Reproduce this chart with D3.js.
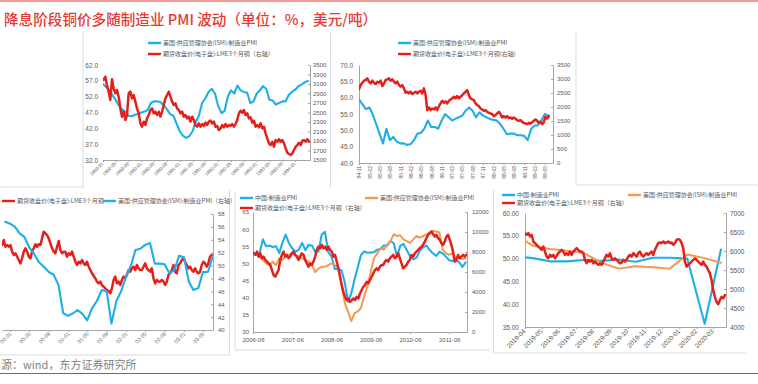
<!DOCTYPE html>
<html><head><meta charset="utf-8">
<script src="https://cdn.jsdelivr.net/npm/d3@7"></script>
<style>body{margin:0;background:#fff}svg{display:block}</style>
</head><body><div id="chart"></div><script>
// ---------------- DATA ----------------
const TITLE = "降息阶段铜价多随制造业 PMI 波动（单位：%，美元/吨）";
const SOURCE = "源：wind，东方证券研究所";
const LEG_US = "美国:供应管理协会(ISM):制造业PMI";
const LEG_US_R = "美国:供应管理协会(ISM):制造业PMI（右轴）";
const LEG_CN = "中国:制造业PMI";
const LEG_CU = "期货收盘价(电子盘):LME3个月铜";
const LEG_CU_R = "期货收盘价(电子盘):LME3个月铜（右轴）";
const LEG_CU_R2 = "期货收盘价(电子盘):LME3个月铜(右轴)";

// Panel 1 : 1989-01 .. 1994-05
const p1Ticks = ["1989-01","1989-05","1989-09","1990-01","1990-05","1990-09","1991-01","1991-05","1991-09","1992-01","1992-05","1992-09","1993-01","1993-05","1993-09","1994-01"];
const p1Left = [32,37,42,47,52,57,62];
const p1Right = [1500,1700,1900,2100,2300,2500,2700,2900,3100,3300,3500];
const p1PmiStart = "1989-01";
const p1Pmi = [56,55,54,52.5,51,49.2,48,47.2,46,45.8,46.3,46.5,
  47,47.3,47.8,50,50.5,50.5,50.3,49.3,48,46.5,46,43.5,
  41,39.6,39,39.5,41,44,46,50,51.5,53.5,54.5,53,
  49,46.8,47.5,52,54,53,55.5,54,53.5,53.3,50,50.5,
  53,54,55.3,54.5,51,50.8,49.5,50,50.5,50.5,52.5,53.5,
  54.2,55.3,55.8,56.5,57];
const p1CuSpan = ["1989-01-07","1994-05-13"];
const p1Cu = [3184,3254,3079,2938,2763,3198,3009,2903,2974,2833,2587,2412,2517,2342,2447,2903,2938,2798,2868,2728,
  2587,2482,2272,2201,2307,2236,2377,2447,2552,2587,2482,2517,2447,2517,2412,2517,2658,2798,2868,2938,
  2833,2728,2658,2693,2587,2552,2482,2517,2412,2447,2377,2412,2307,2412,2342,2236,2201,2272,2201,2257,
  2215,2286,2236,2307,2328,2272,2307,2201,2215,2131,2166,2236,2187,2257,2201,2236,2215,2257,2201,2257,
  2342,2482,2538,2496,2552,2447,2482,2377,2398,2286,2328,2201,2236,2187,2272,2166,2201,2061,1956,1850,
  1815,1885,1780,1920,1885,1935,1885,1920,1850,1745,1654,1626,1605,1640,1710,1780,1815,1864,1815,1906,
  1920,1885,1935,1885];

// Panel 2 : 1994-11 .. 1999-06
const p2Ticks = ["94-11","95-02","95-05","95-08","95-11","96-02","96-05","96-08","96-11","97-02","97-05","97-08","97-11","98-02","98-05","98-08","98-11","99-02","99-05"];
const p2Left = [40,45,50,55,60,65,70];
const p2Right = [0,500,1000,1500,2000,2500,3000,3500];
const p2PmiStart = "1994-11";
const p2Pmi = [59.5,58,56.5,57,55,52,49,46,50.5,47,48,46.5,46,46,45.5,45.8,47,49,49.2,50.5,
  53,51,51,50.5,53,55,54,53,53.5,54,54.5,56,57,56,54,55.5,54.5,54,53.5,53.2,
  53,52,50.5,48.8,49,49,48.5,48.5,48.3,47,50.5,51.5,51.5,53,55,54.5];
const p2CuSpan = ["1994-11-01","1999-06-06"];
const p2Cu = [2629,2784,2868,2940,2964,3023,2904,2844,2940,2868,2820,2904,2868,2940,2749,2844,2964,2988,3023,2940,
  2988,2904,2844,2904,2784,2725,2784,2665,2510,2545,2486,2545,2462,2510,2545,2486,2545,2581,2486,2665,
  2426,1888,1984,1888,1948,1912,1984,1888,2032,2127,2223,2151,2199,2127,2223,2271,2306,2366,2306,2390,
  2306,2366,2426,2486,2545,2605,2426,2306,2271,2247,2127,2067,2032,1948,1912,1864,1888,1828,1793,1769,
  1745,1673,1709,1769,1828,1745,1625,1673,1625,1673,1601,1625,1577,1625,1577,1530,1506,1530,1470,1434,
  1410,1386,1434,1410,1458,1506,1554,1506,1434,1482,1386,1458,1649,1589,1673];

// Panel 3 : 1999-11 .. 2003-06
const p3Ticks = ["00-01","00-05","00-09","01-01","01-05","01-09","02-01","02-05","02-09","03-01","03-05"];
const p3Right = [40,42,44,46,48,50,52,54,56,58];
const p3PmiStart = "1999-12";
const p3Pmi = [56.8,
  56.5,56,55,54.4,52.8,51.8,50.5,49.8,49,48.6,47,42.6,
  42.2,42.6,43.1,42.5,41.5,43.4,44.5,46.2,46,41,44.5,46,
  48.3,50,52.4,52.6,53.2,53.5,50.3,50.3,50.2,48.8,49.3,51.5,
  51.3,47.5,46.2,46.5,49,49,51.3];
const p3CuSpan = ["1999-11-12","2003-06-25"];
const p3Cu = [1959,1998,1946,1959,1946,1959,1908,1882,1895,1869,1843,1817,1856,1908,1934,1908,1869,1856,1908,1934,
  1965,1946,1965,1959,2011,2063,2050,2037,2011,1972,1934,1908,1895,1946,1990,1921,1895,1908,1908,1869,
  1895,1882,1908,1869,1830,1804,1830,1817,1843,1817,1804,1830,1791,1765,1740,1721,1701,1675,1662,1675,
  1649,1636,1623,1610,1602,1584,1623,1688,1714,1662,1675,1649,1688,1714,1701,1727,1765,1752,1778,1791,
  1765,1804,1778,1765,1765,1791,1817,1778,1765,1752,1778,1701,1662,1688,1675,1675,1688,1675,1649,1675,
  1727,1740,1765,1804,1752,1740,1804,1817,1843,1856,1830,1804,1778,1791,1765,1752,1778,1752,1740,1752,
  1804,1830,1817,1791,1817,1869,1882];

// Panel 4 : 2006-06 .. 2011-11
const p4Ticks = ["2006-06","2007-06","2008-06","2009-06","2010-06","2011-06"];
const p4Left = [30,35,40,45,50,55,60,65];
const p4Right = [0,2000,4000,6000,8000,10000,12000];
const p4Start = "2006-06";
const p4Cn = [53.3,52.5,53,57,55,55.2,54.8,
  55,53,56,58.4,55.9,54.4,53.4,54,56,53.9,55.4,55.2,
  53.4,53.5,58.4,59.2,53.3,52,48.4,48.4,48,44.6,38.8,41.2,
  45.3,49,52.4,53.5,53.1,53.2,53.3,54,54.3,55.2,55.2,56.6,
  55.8,52,55.1,55.7,53.9,52.1,51.2,51.7,53.8,54.7,55.2,53.9,
  52.9,52.2,53.4,52.9,52,50.9,50.7,50.9,50.4,49,50.3];
const p4Us = [53,52.5,52,51,50,49.5,50.5,49.5,51.5,51,52,52.5,53,52.5,52,51.5,51,50.5,49.5,47.5,
  48.5,49,49,49.5,50,49.5,49,44,38.5,36,33.2,35.5,36,37,40.5,43.5,47.5,51.5,53,54.5,
  54,55.5,56.5,58.5,58,58.2,57,56.5,56,57,58,57.5,58,58.5,59,59.5,59.3,59,54,53,
  52.5,53,51.5,51.5,51.3,51.5];
const p4CuSpan = ["2006-06-07","2011-11-07"];
const p4Cu = [7873,7705,8040,7538,7873,7370,7538,7203,7035,6868,6700,6198,5695,5528,5863,6198,7203,7705,8040,7538,
  7705,7370,7538,7873,8040,7705,7538,7203,7538,7873,7705,7203,6868,6533,6868,6700,7035,7538,8208,8543,
  8375,8710,8375,8543,8208,8543,8208,8040,7538,7705,7035,6365,5528,4690,4020,3518,3183,3350,3015,3183,
  3350,3183,3518,3350,3853,4188,4523,4690,5025,4858,5193,5528,5863,6198,6365,6198,6533,6700,6700,7035,
  7203,7035,7370,7538,7705,7370,7538,7873,7370,6868,6365,6533,6700,7035,7203,7705,7538,7873,8040,8208,
  8375,8543,8710,9045,9380,9715,9883,10050,9782,9548,9715,9380,9213,8878,8710,9045,9548,9715,9213,8710,
  8040,7035,7203,7705,7370,7538,7705,7538,7705];

// Panel 5 : 2019-04 .. 2020-03
const p5Ticks = ["2019-04","2019-05","2019-06","2019-07","2019-08","2019-09","2019-10","2019-11","2019-12","2020-01","2020-02","2020-03"];
const p5Left = [35,40,45,50,55,60];
const p5Right = [4000,4500,5000,5500,6000,6500,7000];
const p5Start = "2019-03";
const p5Cn = [50.5,50.1,49.4,49.4,49.7,49.5,49.8,49.3,50.2,50.2,50.0,35.7,52.0];
const p5Us = [55.3,52.8,52.1,51.7,51.2,49.1,47.8,48.3,48.1,47.8,50.9,50.1,49.1];
const p5CuSpan = ["2019-04-01","2020-03-22"];
const p5Cu = [6471,6427,6471,6383,6427,6250,6206,6162,6118,6074,6030,6118,5986,5853,5809,5898,5853,5898,5809,5871,
  5942,5986,6030,5986,5898,5942,5898,5986,5898,5986,6030,6074,6030,5986,5986,5942,5765,5677,5765,5721,
  5765,5677,5721,5677,5633,5677,5633,5721,5809,5898,5853,5942,5809,5765,5809,5765,5721,5677,5695,5765,
  5721,5765,5853,5898,5853,5942,5898,5853,5942,5986,5898,5853,5898,5942,5898,5942,5986,5898,6030,6118,
  6206,6224,6206,6250,6206,6224,6250,6206,6224,6162,6206,6294,6312,6294,6206,6074,5721,5589,5633,5677,
  5721,5765,5809,5765,5721,5677,5633,5721,5633,5589,5501,5412,5236,4971,4795,4663,4601,4707,4795,4751,
  4839];

// ---------------- HELPERS ----------------
const FONT = '"Liberation Sans","Noto Sans CJK SC",sans-serif';
const CJK = '"Noto Sans CJK SC","Liberation Sans",sans-serif';
const C = {blue:"#1eaee8", red:"#e3201c", orange:"#f39a50", axis:"#a6a6a6", text:"#595959", border:"#dcdcdc", title:"#e53a33"};
const pm = s => { const [y,m] = s.split("-").map(Number); return new Date(y, m-1, 1); };
const pd = s => { const [y,m,d] = s.split("-").map(Number); return new Date(y, m-1, d); };
const monthly = (start, vals, day=1) => { const d0 = pm(start); return vals.map((v,i)=>({d:new Date(d0.getFullYear(), d0.getMonth()+i, day), v})); };
const spread = (span, vals) => { const a=+pd(span[0]), b=+pd(span[1]); return vals.map((v,i)=>({d:new Date(a+(b-a)*i/(vals.length-1)), v})); };

const svg = d3.select("#chart").append("svg").attr("width",758).attr("height",384);

function styleAxis(sel, fs){
  sel.attr("font-size", fs).attr("font-family", FONT);
  sel.selectAll(".domain").attr("stroke", C.axis);
  sel.selectAll(".tick line").attr("stroke", C.axis);
  sel.selectAll("text").attr("fill", C.text);
}

function drawPanel(p){
  const g = svg.append("g");
  const x = d3.scaleTime().domain([pd(p.x0), pd(p.x1)]).range([p.l, p.r]);
  const yL = d3.scaleLinear().domain(p.yL).range([p.b, p.t]);
  const yR = d3.scaleLinear().domain(p.yR).range([p.b, p.t]);
  const cid = "clip" + p.id;
  g.append("clipPath").attr("id", cid).append("rect")
    .attr("x", p.l).attr("y", p.t - 20).attr("width", p.r - p.l).attr("height", p.b - p.t + 20);

  // x axis
  const xa = d3.axisBottom(x).tickValues(p.xt.map(p.xd)).tickFormat((d,i)=>p.xt[i])
    .tickSizeInner(p.xTick).tickSizeOuter(0).tickPadding(0);
  const gx = g.append("g").attr("transform", `translate(0,${p.b})`).call(xa);
  styleAxis(gx, p.xfs);
  const tx = gx.selectAll("text").attr("y", null).attr("x", null);
  if (p.xRot === -45) tx.attr("text-anchor","end").attr("dy","0.35em").attr("transform",`translate(${p.xdx||0},${p.xdy}) rotate(-45)`);
  else if (p.xRot === -90) tx.attr("text-anchor","end").attr("dy","0.35em").attr("transform",`translate(0,${p.xdy}) rotate(-90)`);
  else tx.attr("y", p.xdy).attr("dy","0.71em");

  if (p.leftTicks){
    const la = d3.axisLeft(yL).tickValues(p.leftTicks).tickFormat(d3.format(p.lFmt))
      .tickSizeInner(p.lTick||0).tickSizeOuter(0).tickPadding(p.lPad);
    const gl = g.append("g").attr("transform", `translate(${p.l},0)`).call(la);
    styleAxis(gl, p.lfs);
    if (!p.lLine) gl.select(".domain").remove();
  }
  if (p.rightTicks){
    const ra = d3.axisRight(yR).tickValues(p.rightTicks).tickFormat(d3.format(p.rFmt))
      .tickSizeInner(-2).tickSizeOuter(0).tickPadding(p.rPad);
    const gr = g.append("g").attr("transform", `translate(${p.r},0)`).call(ra);
    styleAxis(gr, p.rfs);
  }

  p.series.forEach(s=>{
    const ys = s.axis === "R" ? yR : yL;
    const line = d3.line().x(d=>x(d.d)).y(d=>ys(d.v));
    g.append("path").datum(s.data).attr("clip-path", `url(#${cid})`)
      .attr("d", line).attr("fill","none").attr("stroke", s.color)
      .attr("stroke-width", s.w).attr("stroke-linejoin","round").attr("stroke-linecap","round");
  });

  p.legend.forEach(it=>{
    g.append("line").attr("x1", it.x).attr("x2", it.x+13).attr("y1", it.y).attr("y2", it.y)
      .attr("stroke", it.color).attr("stroke-width", 2.4);
    g.append("text").attr("x", it.x+15).attr("y", it.y).attr("dy","0.35em")
      .attr("font-family", CJK).attr("font-size", p.legfs).attr("fill", C.text).text(it.text);
  });
}

// ---------------- FRAME ----------------
svg.append("line").attr("x1",0).attr("x2",758).attr("y1",1).attr("y2",1).attr("stroke",C.title).attr("stroke-width",1.2);
svg.append("line").attr("x1",0).attr("x2",758).attr("y1",373.5).attr("y2",373.5).attr("stroke",C.title).attr("stroke-width",1.2);
svg.append("text").attr("x",4).attr("y",25).attr("font-family",CJK).attr("font-size",14.6).attr("font-weight",500)
  .attr("fill",C.title).text(TITLE);
svg.append("text").attr("x",1).attr("y",369).attr("font-family",CJK).attr("font-size",11)
  .attr("fill","#7f7f7f").text(SOURCE);

const borders = [
  [83,33,83,188],[0,187,83,187],[330.5,33,330.5,188],[576,33,576,185],[576,185,758,185],
  [229.5,190,229.5,355],[0,355,229.5,355],
  [235,191,235,350],[235,350,490,350],
  [493.5,190,493.5,353],[493.5,353,747,353]
];
borders.forEach(b=>svg.append("line").attr("x1",b[0]).attr("y1",b[1]).attr("x2",b[2]).attr("y2",b[3])
  .attr("stroke",C.border).attr("stroke-width",1));

// ---------------- PANELS ----------------
drawPanel({id:1, x0:"1989-01-01", x1:"1994-05-22", l:103, r:310, t:65, b:160,
  yL:[32,62], yR:[1500,3500], xt:p1Ticks, xd:pm, xRot:-45, xfs:4.6, xdy:3, xdx:-1, xTick:2,
  leftTicks:p1Left, lFmt:".1f", lPad:5, lLine:false, lfs:6.5,
  rightTicks:p1Right, rFmt:"d", rPad:3, rfs:6,
  series:[{data:monthly(p1PmiStart,p1Pmi), axis:"L", color:C.blue, w:2.1},
          {data:spread(p1CuSpan,p1Cu), axis:"R", color:C.red, w:2.5}],
  legfs:6, legend:[{x:148,y:43,color:C.blue,text:LEG_US},{x:148,y:54,color:C.red,text:LEG_CU_R}]});

drawPanel({id:2, x0:"1994-11-01", x1:"1999-07-13", l:359, r:553, t:65, b:163,
  yL:[40,70], yR:[0,3500], xt:p2Ticks, xd:s=>pm("19"+s), xRot:-90, xfs:5, xdy:3, xTick:2,
  leftTicks:p2Left, lFmt:".1f", lPad:6, lLine:true, lfs:6.5,
  rightTicks:p2Right, rFmt:"d", rPad:4, rfs:6,
  series:[{data:monthly(p2PmiStart,p2Pmi), axis:"L", color:C.blue, w:2.1},
          {data:spread(p2CuSpan,p2Cu), axis:"R", color:C.red, w:2.5}],
  legfs:6, legend:[{x:398,y:43,color:C.blue,text:LEG_US},{x:398,y:54,color:C.red,text:LEG_CU_R2}]});

drawPanel({id:3, x0:"1999-11-11", x1:"2003-07-03", l:2, r:213, t:214, b:330,
  yL:[1300,2200], yR:[40,58], xt:p3Ticks, xd:s=>pm("20"+s), xRot:-45, xfs:5.3, xdy:3, xdx:0, xTick:2,
  rightTicks:p3Right, rFmt:"d", rPad:5, rfs:6,
  series:[{data:spread(p3CuSpan,p3Cu), axis:"L", color:C.red, w:2.5},
          {data:monthly(p3PmiStart,p3Pmi), axis:"R", color:C.blue, w:2.1}],
  legfs:6, legend:[{x:2,y:201,color:C.red,text:LEG_CU},{x:103,y:201,color:C.blue,text:LEG_US_R}]});

drawPanel({id:4, x0:"2006-06-01", x1:"2011-11-13", l:253, r:467, t:212, b:332,
  yL:[30,65], yR:[0,12000], xt:p4Ticks, xd:pm, xRot:0, xfs:6, xdy:6, xTick:2,
  leftTicks:p4Left, lFmt:"d", lPad:4, lLine:true, lfs:6,
  rightTicks:p4Right, rFmt:"d", rPad:5, rfs:6,
  series:[{data:monthly(p4Start,p4Cn), axis:"L", color:C.blue, w:2.1},
          {data:monthly(p4Start,p4Us), axis:"L", color:C.orange, w:2},
          {data:spread(p4CuSpan,p4Cu), axis:"R", color:C.red, w:2.5}],
  legfs:6, legend:[{x:240,y:198,color:C.blue,text:LEG_CN},{x:365,y:198,color:C.orange,text:LEG_US},
                   {x:240,y:208,color:C.red,text:LEG_CU_R}]});

drawPanel({id:5, x0:"2019-04-01", x1:"2020-03-24", l:525, r:726, t:213, b:327,
  yL:[35,60], yR:[4000,7000], xt:p5Ticks, xd:pm, xRot:-45, xfs:6.5, xdy:3, xdx:-1, xTick:2,
  leftTicks:p5Left, lFmt:".2f", lPad:6, lLine:true, lfs:6.5,
  rightTicks:p5Right, rFmt:"d", rPad:4, rfs:6.5,
  series:[{data:monthly(p5Start,p5Cn,15), axis:"L", color:C.blue, w:2.1},
          {data:monthly(p5Start,p5Us,15), axis:"L", color:C.orange, w:2},
          {data:spread(p5CuSpan,p5Cu), axis:"R", color:C.red, w:2.5}],
  legfs:6, legend:[{x:502,y:195,color:C.blue,text:LEG_CN},{x:628,y:195,color:C.orange,text:LEG_US},
                   {x:502,y:203,color:C.red,text:LEG_CU_R}]});
</script></body></html>
